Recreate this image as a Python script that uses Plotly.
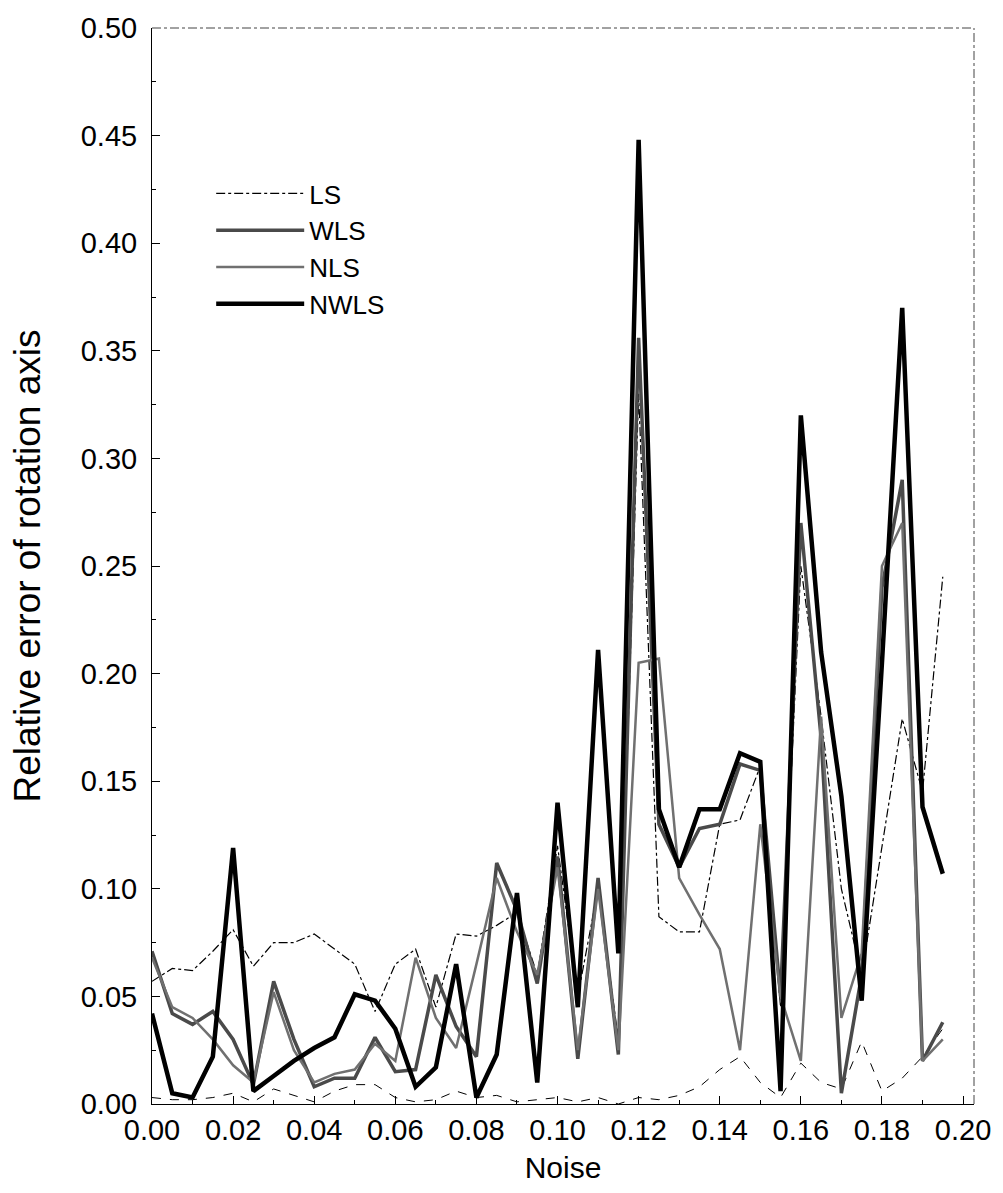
import plotly.graph_objects as go

noise = [round(0.005 * i, 3) for i in range(40)]

ls = [0.057, 0.063, 0.062, 0.071, 0.081, 0.064, 0.075, 0.075, 0.079, 0.072,
      0.065, 0.043, 0.065, 0.072, 0.045, 0.079, 0.078, 0.083, 0.089, 0.060,
      0.120, 0.050, 0.100, 0.030, 0.330, 0.087, 0.080, 0.080, 0.130, 0.132,
      0.157, 0.045, 0.250, 0.180, 0.100, 0.060, 0.120, 0.179, 0.145, 0.245]

wls = [0.071, 0.042, 0.037, 0.043, 0.030, 0.009, 0.057, 0.030, 0.008, 0.012,
       0.012, 0.031, 0.015, 0.016, 0.060, 0.036, 0.022, 0.112, 0.090, 0.056,
       0.115, 0.021, 0.105, 0.023, 0.356, 0.130, 0.110, 0.128, 0.130, 0.158,
       0.155, 0.050, 0.270, 0.170, 0.005, 0.060, 0.240, 0.290, 0.020, 0.038]

nls = [0.068, 0.045, 0.040, 0.030, 0.018, 0.010, 0.052, 0.025, 0.010, 0.014,
       0.016, 0.028, 0.020, 0.068, 0.040, 0.026, 0.065, 0.105, 0.080, 0.060,
       0.110, 0.025, 0.100, 0.025, 0.205, 0.207, 0.105, 0.088, 0.072, 0.025,
       0.130, 0.050, 0.020, 0.180, 0.040, 0.070, 0.250, 0.270, 0.020, 0.030]

nwls = [0.042, 0.005, 0.003, 0.022, 0.119, 0.006, 0.013, 0.020, 0.026, 0.031,
        0.051, 0.048, 0.035, 0.008, 0.017, 0.065, 0.003, 0.023, 0.098, 0.010,
        0.140, 0.045, 0.211, 0.070, 0.448, 0.137, 0.110, 0.137, 0.137, 0.163,
        0.159, 0.006, 0.320, 0.210, 0.143, 0.048, 0.205, 0.370, 0.138, 0.107]

low_curve = [0.003, 0.002, 0.002, 0.003, 0.005, 0.001, 0.007, 0.004, 0.001, 0.006,
             0.009, 0.009, 0.003, 0.001, 0.002, 0.006, 0.003, 0.004, 0.001, 0.002,
             0.003, 0.001, 0.003, 0.000, 0.003, 0.002, 0.004, 0.008, 0.016, 0.022,
             0.010, 0.003, 0.019, 0.010, 0.007, 0.029, 0.006, 0.012, 0.022, 0.035]

font_family = "Liberation Sans, Arial, Helvetica, sans-serif"

fig = go.Figure()
fig.add_trace(go.Scatter(x=noise, y=low_curve, mode="lines", showlegend=False,
                         line=dict(color="black", width=1, dash="dash")))
fig.add_trace(go.Scatter(x=noise, y=ls, mode="lines", name="LS",
                         line=dict(color="black", width=1.2, dash="dashdot")))
fig.add_trace(go.Scatter(x=noise, y=wls, mode="lines", name="WLS",
                         line=dict(color="#4a4a4a", width=3.5)))
fig.add_trace(go.Scatter(x=noise, y=nls, mode="lines", name="NLS",
                         line=dict(color="#707070", width=2.5)))
fig.add_trace(go.Scatter(x=noise, y=nwls, mode="lines", name="NWLS",
                         line=dict(color="black", width=4.5)))

fig.update_layout(
    width=1003, height=1193,
    margin=dict(l=152, r=20, t=20, b=89),
    paper_bgcolor="white", plot_bgcolor="white",
    font=dict(family=font_family, color="black", size=28),
    legend=dict(x=0.072, y=0.868, xanchor="left", yanchor="top",
                font=dict(size=26), bgcolor="rgba(0,0,0,0)",
                traceorder="normal", itemwidth=88, tracegroupgap=0),
    shapes=[
        dict(type="line", xref="paper", yref="paper", x0=0, x1=1, y0=1, y1=1,
             line=dict(color="#444", width=1, dash="dashdot")),
        dict(type="line", xref="paper", yref="paper", x0=1, x1=1, y0=0, y1=1,
             line=dict(color="#444", width=1, dash="dashdot")),
    ],
)

fig.update_xaxes(
    range=[0, 0.2027], tickvals=[0, 0.02, 0.04, 0.06, 0.08, 0.10, 0.12, 0.14, 0.16, 0.18, 0.20],
    tickformat=".2f", ticks="inside", ticklen=8, tickcolor="black",
    minor=dict(dtick=0.01, ticks="inside", ticklen=4, tickcolor="black"),
    showline=True, linecolor="black", linewidth=1, mirror=False,
    showgrid=False, zeroline=False,
    tickfont=dict(size=29),
    title=dict(text="Noise", font=dict(size=30), standoff=12),
)
fig.update_yaxes(
    range=[0, 0.5], dtick=0.05, tickformat=".2f",
    ticks="inside", ticklen=8, tickcolor="black",
    minor=dict(dtick=0.025, ticks="inside", ticklen=4, tickcolor="black"),
    showline=True, linecolor="black", linewidth=1, mirror=False,
    showgrid=False, zeroline=False,
    tickfont=dict(size=29), ticklabelstandoff=8,
    title=dict(text="Relative error of rotation axis", font=dict(size=37), standoff=28),
)

fig.write_html("out.html")
